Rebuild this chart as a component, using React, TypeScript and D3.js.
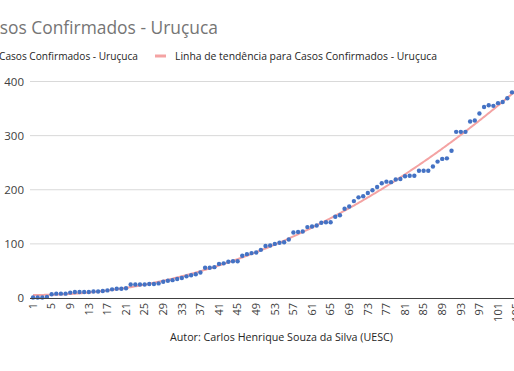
import React from "react";
import * as d3 from "d3";

const days: number[] = Array.from({ length: 105 }, (_, i) => i + 1);
const cases: number[] = [
  1, 1, 1, 2, 7, 8, 8, 8, 10, 11,
  11, 11, 11, 12, 12, 13, 14, 16, 17, 17,
  18, 25, 25, 25, 25, 26, 26, 27, 30, 32,
  33, 35, 37, 40, 42, 44, 47, 56, 56, 57,
  63, 64, 67, 68, 68, 78, 81, 83, 84, 89,
  96, 97, 100, 102, 103, 108, 121, 122, 123, 131,
  132, 134, 139, 140, 140, 150, 153, 165, 169, 179,
  186, 188, 194, 199, 205, 212, 215, 214, 219, 220,
  225, 226, 226, 235, 235, 235, 243, 252, 257, 258,
  272, 307, 307, 307, 326, 328, 341, 353, 356, 355,
  360, 362, 369, 380, 386,
];
const yTicks: number[] = [0, 100, 200, 300, 400];
const xTickEvery = 4;

const title = "Casos Confirmados - Uruçuca";
const seriesName = "Casos Confirmados - Uruçuca";
const trendName = "Linha de tendência para Casos Confirmados - Uruçuca";
const footer = "Autor: Carlos Henrique Souza da Silva (UESC)";

// least-squares polynomial (order 2) trendline, like Excel
function quadFit(xs: number[], ys: number[]) {
  const n = xs.length;
  let s0 = n, s1 = 0, s2 = 0, s3 = 0, s4 = 0, t0 = 0, t1 = 0, t2 = 0;
  for (let i = 0; i < n; i++) {
    const x = xs[i], y = ys[i];
    s1 += x; s2 += x * x; s3 += x * x * x; s4 += x * x * x * x;
    t0 += y; t1 += x * y; t2 += x * x * y;
  }
  const M = [
    [s0, s1, s2, t0],
    [s1, s2, s3, t1],
    [s2, s3, s4, t2],
  ];
  for (let c = 0; c < 3; c++) {
    let p = c;
    for (let r = c + 1; r < 3; r++) if (Math.abs(M[r][c]) > Math.abs(M[p][c])) p = r;
    [M[c], M[p]] = [M[p], M[c]];
    for (let r = 0; r < 3; r++) {
      if (r === c) continue;
      const f = M[r][c] / M[c][c];
      for (let k = c; k < 4; k++) M[r][k] -= f * M[c][k];
    }
  }
  return [M[0][3] / M[0][0], M[1][3] / M[1][1], M[2][3] / M[2][2]];
}

const FONT = "'Open Sans', 'Noto Sans', 'DejaVu Sans', sans-serif";

export default function App() {
  const W = 514, H = 371;
  const left = 30.7, step = 4.65;
  const x = d3
    .scaleBand<number>()
    .domain(days)
    .range([left, left + days.length * step])
    .padding(0);
  const cx = (d: number) => (x(d) as number) + x.bandwidth() / 2;
  const y = d3.scaleLinear().domain([0, 400]).range([298, 81.5]);

  const [a, b, c] = quadFit(days, cases);
  const trendPts: [number, number][] = [];
  for (let t = 1; t <= days.length; t += 0.25) trendPts.push([t, a + b * t + c * t * t]);
  const tx = d3.scaleLinear().domain([1, days.length]).range([cx(1), cx(days.length)]);
  const trendPath = d3
    .line<[number, number]>()
    .x((p) => tx(p[0]))
    .y((p) => y(p[1]))(trendPts) as string;

  return (
    <svg
      width={W}
      height={H}
      style={{ position: "absolute", left: 0, top: 0, background: "#fff" }}
      fontFamily={FONT}
    >
      <rect x={0} y={0} width={W} height={H} fill="#fff" />
      <text x={-21} y={34} fontSize={18.5} fill="#757575" textLength={239} lengthAdjust="spacingAndGlyphs">
        {title}
      </text>

      {/* legend */}
      <text x={-1} y={60} fontSize={11.5} fill="#262626" textLength={139} lengthAdjust="spacingAndGlyphs">
        {seriesName}
      </text>
      <line x1={155} x2={166} y1={56} y2={56} stroke="#F4A3A3" strokeWidth={3} />
      <text x={175} y={60} fontSize={11.5} fill="#262626" textLength={262} lengthAdjust="spacingAndGlyphs">
        {trendName}
      </text>

      {/* gridlines */}
      {yTicks.filter((t) => t > 0).map((t) => (
        <line key={t} x1={30} x2={W} y1={y(t)} y2={y(t)} stroke="#d9d9d9" strokeWidth={1} />
      ))}
      {yTicks.map((t) => (
        <text key={"yl" + t} x={24} y={y(t)} dy="0.35em" textAnchor="end" fontSize={11.5} fill="#404040">
          {t}
        </text>
      ))}

      {/* trend */}
      <path d={trendPath} fill="none" stroke="#F4A3A3" strokeWidth={2} />

      {/* points */}
      {days.map((d, i) => (
        <circle key={d} cx={cx(d)} cy={y(cases[i])} r={2.2} fill="#4472C4" />
      ))}

      {/* x axis */}
      <line x1={30} x2={W} y1={298.5} y2={298.5} stroke="#404040" strokeWidth={1} />
      {days.filter((d) => (d - 1) % xTickEvery === 0).map((d) => (
        <text
          key={"xl" + d}
          transform={`translate(${cx(d)},303) rotate(-90)`}
          textAnchor="end"
          dy="0.35em"
          fontSize={11}
          fill="#404040"
        >
          {d}
        </text>
      ))}

      <text x={170} y={341} fontSize={11} fill="#262626" textLength={223} lengthAdjust="spacingAndGlyphs">
        {footer}
      </text>
    </svg>
  );
}
